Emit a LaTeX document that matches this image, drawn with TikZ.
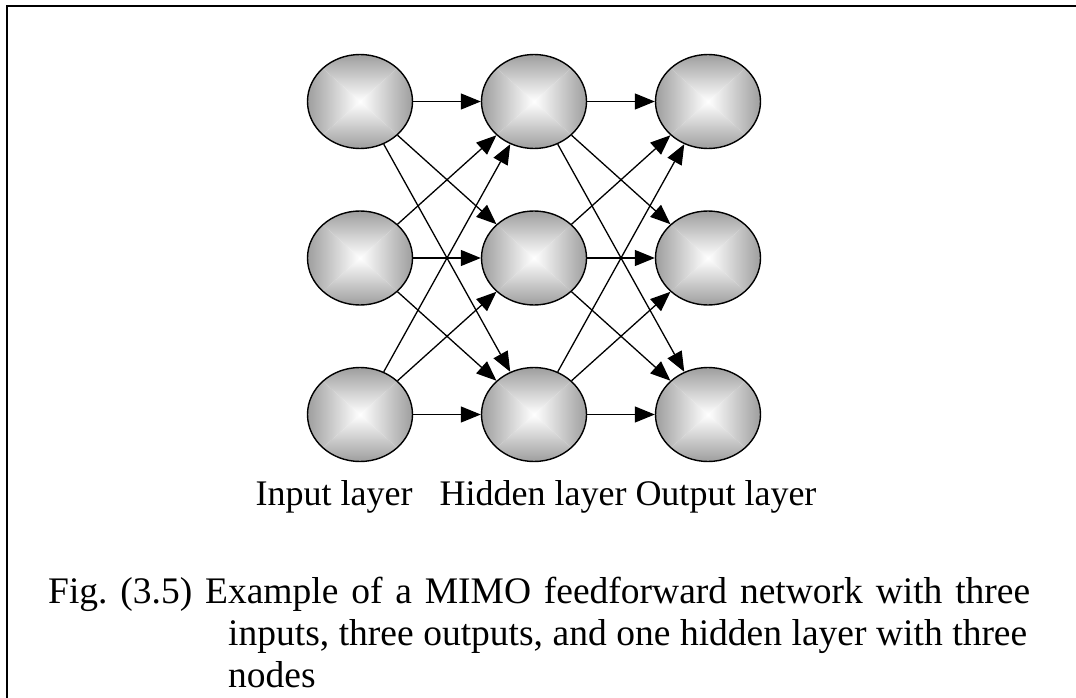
\documentclass[tikz,border=0pt]{standalone}
\usepackage{fontspec}
\setmainfont{Liberation Serif}
\frenchspacing
\usetikzlibrary{arrows.meta,shapes.geometric,calc}
\definecolor{edgegray}{gray}{0.62}
\definecolor{midgray}{gray}{0.88}
\tikzset{
  neuron/.style={ellipse, minimum width=105pt, minimum height=94pt, inner sep=0pt, draw=black, line width=1.4pt},
  link/.style={line width=1.3pt, -{Triangle[length=20pt,width=16pt]}},
  frame/.style={line width=2pt},
  lbl/.style={font=\fontsize{36}{42}\selectfont, inner sep=0pt},
  captext/.style={font=\fontsize{37.5}{42}\selectfont, inner sep=0pt, anchor=base west},
}
\newcommand\shadedneuron[2]{%
  \begin{scope}
    \clip (#2) ellipse (52.5pt and 47pt);
    \shade[top color=edgegray, middle color=midgray, bottom color=white] ($(#2)+(-52.5,-47)$) -- ($(#2)+(52.5,-47)$) -- (#2) -- cycle;
    \shade[bottom color=edgegray, middle color=midgray, top color=white] ($(#2)+(-52.5,47)$) -- ($(#2)+(52.5,47)$) -- (#2) -- cycle;
    \shade[left color=edgegray, middle color=midgray, right color=white] ($(#2)+(-52.5,-47)$) -- ($(#2)+(-52.5,47)$) -- (#2) -- cycle;
    \shade[right color=edgegray, middle color=midgray, left color=white] ($(#2)+(52.5,-47)$) -- ($(#2)+(52.5,47)$) -- (#2) -- cycle;
  \end{scope}
  \node[neuron] (#1) at (#2) {};
}
\begin{document}
\begin{tikzpicture}[x=1pt,y=-1pt]
\useasboundingbox (0,0) rectangle (1076,698);
\fill[white] (0,0) rectangle (1076,698);
\coordinate (tl) at (7,6);
\coordinate (tr) at (1076,6);
\coordinate (bl) at (7,698);
\draw[frame] (tr) -- (tl) -- (bl);
\foreach \c/\x in {i/360,h/534,o/708}{
  \foreach \r/\y in {1/101.5,2/258,3/414.5}{
    \shadedneuron{\c\r}{\x,\y}
  }
}
\foreach \a in {1,2,3}{
  \foreach \b in {1,2,3}{
    \draw[link] (i\a) -- (h\b);
    \draw[link] (h\a) -- (o\b);
  }
}
\node[lbl, anchor=base] (labels) at (536,505) {Input layer\ \ \ Hidden layer Output layer};
\node[captext] (cap1) at (48,603) {\makebox[982pt][s]{Fig. (3.5) Example of a MIMO feedforward network with three}};
\node[captext] (cap2) at (228,645) {\makebox[799pt][s]{inputs, three outputs, and one hidden layer with three}};
\node[captext] (cap3) at (228,687) {nodes};
\end{tikzpicture}
\end{document}
